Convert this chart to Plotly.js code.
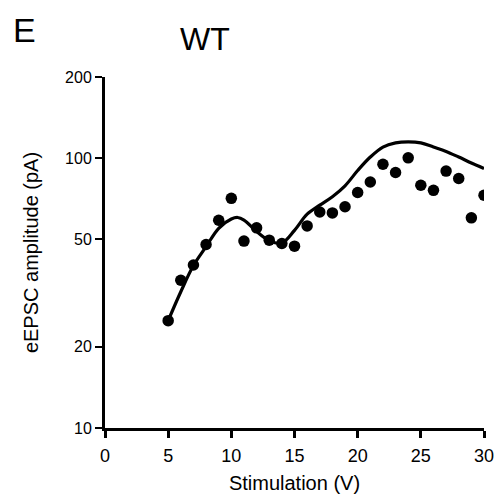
<!DOCTYPE html>
<html>
<head>
<meta charset="utf-8">
<script src="https://cdn.plot.ly/plotly-3.0.1.min.js"></script>
<style>html,body{margin:0;padding:0;background:#fff}#chart{width:497px;height:502px}</style>
</head>
<body>
<div id="chart"></div>
<script>
// Measured data points (stimulation voltage, eEPSC amplitude in pA)
var stimX = [5, 6, 7, 8, 9, 10, 11, 12, 13, 14, 15, 16, 17, 18, 19, 20, 21, 22, 23, 24, 25, 26, 27, 28, 29, 30];
var ampY = [25, 35.3, 40.2, 47.9, 58.9, 71, 49.3, 55.2, 49.7, 48.3, 47.2, 56.1, 63.2, 62.7, 66.1, 74.6, 81.6, 95, 88.5, 100.3, 79.4, 76, 89.6, 84.1, 60.1, 72.9];
// Fitted curve
var fitX = [5, 6, 7, 8, 9, 10, 10.5, 11, 12, 13, 14, 15, 16, 17, 18, 19, 20, 21, 22, 23, 24, 25, 26, 27, 28, 29, 30];
var fitY = [25, 32, 40, 47, 55, 59.5, 60.3, 59, 53.5, 49.5, 48.5, 54, 62, 67, 72, 79, 90, 101, 110, 114, 115, 114, 110, 106, 101, 96, 91.6];
var xTicks = [0, 5, 10, 15, 20, 25, 30];
var yTicks = [10, 20, 50, 100, 200];

var font = 'Liberation Sans, Arial, Helvetica, sans-serif';
var traces = [
  {x: fitX, y: fitY, mode: 'lines', line: {color: '#000', width: 3.2, shape: 'spline'}, hoverinfo: 'none'},
  {x: stimX, y: ampY, mode: 'markers', marker: {color: '#000', size: 11.5}, hoverinfo: 'none'}
];
var layout = {
  width: 497, height: 502,
  margin: {l: 105, r: 13, t: 77, b: 74},
  paper_bgcolor: '#fff', plot_bgcolor: '#fff',
  showlegend: false,
  font: {family: font, color: '#000'},
  xaxis: {
    range: [0, 30], tickvals: xTicks, ticktext: xTicks.map(String),
    showgrid: false, zeroline: false, showline: true, linecolor: '#000', linewidth: 3,
    ticks: 'outside', ticklen: 7, tickwidth: 3, tickcolor: '#000',
    ticklabelstandoff: 2,
    tickfont: {size: 18, family: font},
    title: {text: 'Stimulation (V)', font: {size: 20, family: font}, standoff: 12}
  },
  yaxis: {
    type: 'log', range: [1, Math.log10(200)], tickvals: yTicks, ticktext: yTicks.map(String),
    showgrid: false, zeroline: false, showline: true, linecolor: '#000', linewidth: 3,
    ticks: 'outside', ticklen: 7, tickwidth: 2, tickcolor: '#000',
    tickfont: {size: 16, family: font},
    title: {text: 'eEPSC amplitude (pA)', font: {size: 20, family: font}, standoff: 22}
  },
  annotations: [
    {text: 'E', x: 24, y: 30, xref: 'paper', yref: 'paper', showarrow: false, font: {size: 34, family: font}},
    {text: 'WT', x: 205, y: 39, xref: 'paper', yref: 'paper', showarrow: false, font: {size: 32, family: font}}
  ]
};
// Convert annotation pixel positions to paper coords
var pw = 497 - 105 - 13, ph = 502 - 77 - 74;
layout.annotations.forEach(function(a){
  a.x = (a.x - 105) / pw; a.y = 1 - (a.y - 77) / ph;
  a.xanchor = 'center'; a.yanchor = 'middle';
});
Plotly.newPlot('chart', traces, layout, {staticPlot: true});
</script>
</body>
</html>
